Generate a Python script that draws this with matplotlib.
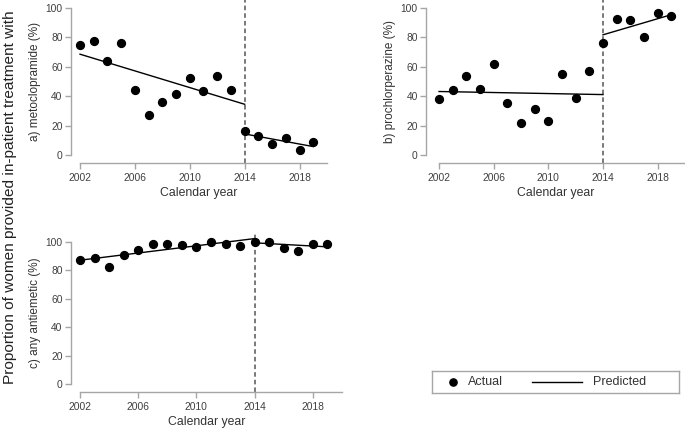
import matplotlib.pyplot as plt

plt.rcParams['font.family'] = ['Liberation Sans', 'DejaVu Sans']

years = list(range(2002, 2020))

metoclopramide = [75.0, 77.7, 64.3, 76.4, 43.9, 27.0, 35.9, 41.4, 52.7,
                  43.2, 53.6, 44.3, 16.4, 13.2, 7.3, 11.4, 3.6, 8.6]
prochlorperazine = [38.2, 44.5, 53.6, 45.0, 61.8, 35.7, 22.0, 31.4, 23.0,
                    55.2, 38.9, 57.3, 75.9, 92.3, 91.6, 80.0, 96.6, 94.3]
antiemetic = [86.9, 89.0, 82.2, 90.7, 94.6, 98.4, 98.4, 98.1, 96.7,
              100.0, 98.4, 97.2, 100.0, 100.0, 95.8, 93.5, 98.4, 98.6]

# fitted segments: (start year, end year, start value, end value)
pred_a = [(2002, 2014, 68.6, 34.5), (2014, 2019, 14.3, 5.7)]
pred_b = [(2002, 2014, 43.2, 41.1), (2014, 2019, 81.8, 95.5)]
pred_c = [(2002, 2014, 87.1, 102.3), (2014, 2019, 99.3, 96.5)]

labels = ["a) metoclopramide (%)", "b) prochlorperazine (%)", "c) any antiemetic (%)"]

fig = plt.figure(figsize=(6.85, 4.29), dpi=100)
ax_a = fig.add_axes([0.1036, 0.620, 0.3737, 0.380])
ax_b = fig.add_axes([0.622, 0.620, 0.378, 0.380])
ax_c = fig.add_axes([0.1036, 0.0862, 0.3956, 0.3683])

gray = "#a6a6a6"
panels = [(ax_a, metoclopramide, pred_a, labels[0], 2001.34),
          (ax_b, prochlorperazine, pred_b, labels[1], 2001.05),
          (ax_c, antiemetic, pred_c, labels[2], 2001.38)]

for ax, vals, pred, lab, xleft in panels:
    ax.axvline(2014, color="#555555", linestyle=(0, (3, 2)), linewidth=1.1,
               clip_on=False, zorder=1)
    ax.scatter(years, vals, s=32, color="black", zorder=3, clip_on=False)
    for x0, x1, y0, y1 in pred:
        ax.plot([x0, x1], [y0, y1], color="black", linewidth=1.0, zorder=2,
                clip_on=False)
    ax.set_xlim(xleft, 2020)
    ax.set_ylim(-5.5, 105.5)
    ax.set_xticks([2002, 2006, 2010, 2014, 2018])
    ax.set_yticks([0, 20, 40, 60, 80, 100])
    ax.spines["top"].set_visible(False)
    ax.spines["right"].set_visible(False)
    ax.spines["left"].set_bounds(0, 100)
    ax.spines["bottom"].set_bounds(2002, 2020)
    for s in ("left", "bottom"):
        ax.spines[s].set_color(gray)
        ax.spines[s].set_linewidth(1.0)
    ax.tick_params(direction="out", length=4, width=1.0, color=gray,
                   labelsize=7.4, labelcolor="#404040", pad=2)
    ax.tick_params(axis="x", pad=3)
    ax.set_xlabel("Calendar year", fontsize=8.8, color="#333333", labelpad=3)
    ax.set_ylabel(lab, fontsize=8.5, color="#333333", labelpad=3)
    ax.patch.set_visible(False)

fig.text(0.0139, 0.54, "Proportion of women provided in-patient treatment with",
         rotation=90, ha="center", va="center", fontsize=11.1, color="#222222")

# legend box drawn in its own small axes (pixel-like units 0..247 x 0..22)
leg = fig.add_axes([432 / 685, 1 - 393 / 429, 247 / 685, 22 / 429])
leg.set_xlim(0, 247)
leg.set_ylim(0, 22)
leg.set_xticks([])
leg.set_yticks([])
for s in leg.spines.values():
    s.set_color(gray)
    s.set_linewidth(1.0)
leg.plot([21], [11], marker="o", markersize=5.2, color="black", linestyle="none")
leg.text(36, 11, "Actual", va="center", ha="left", fontsize=9, color="#333333")
leg.plot([100, 150], [11, 11], color="black", linewidth=1.0)
leg.text(161, 11, "Predicted", va="center", ha="left", fontsize=9, color="#333333")

fig.savefig("out.png", dpi=100)
